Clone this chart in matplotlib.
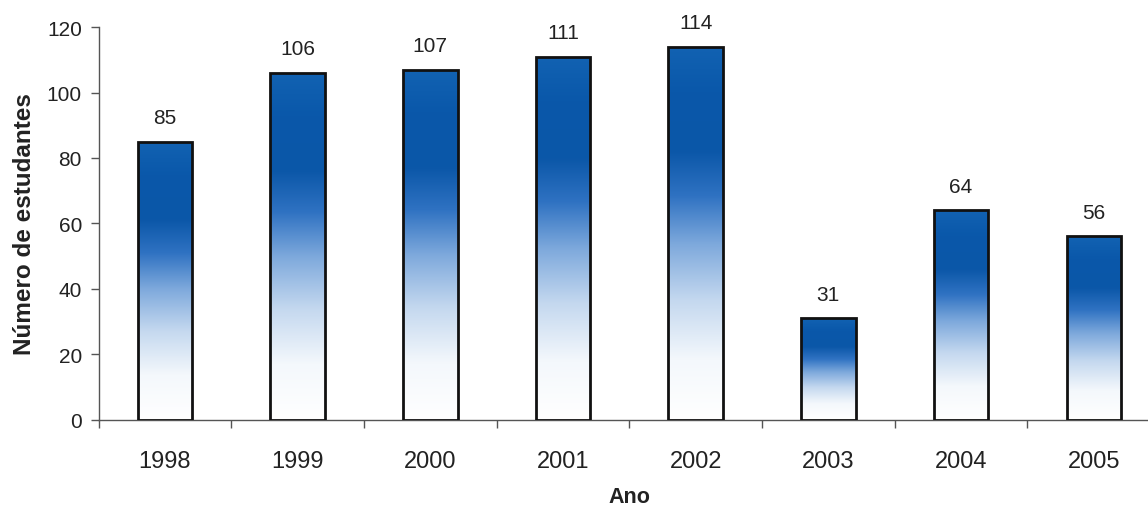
import numpy as np
import matplotlib
matplotlib.use("Agg")
import matplotlib.pyplot as plt
from matplotlib.colors import LinearSegmentedColormap

plt.rcParams['font.family'] = ['Liberation Sans', 'DejaVu Sans']

anos = ['1998', '1999', '2000', '2001', '2002', '2003', '2004', '2005']
estudantes = [85, 106, 107, 111, 114, 31, 64, 56]
yticks = [0, 20, 40, 60, 80, 100, 120]

# vertical fill: white at the base, deep blue towards the top
grad = LinearSegmentedColormap.from_list(
    'azul',
    [(0.0, '#ffffff'), (0.16, '#f4f8fc'), (0.32, '#c4d8ef'),
     (0.47, '#7ea9dc'), (0.6, '#2f72c2'), (0.72, '#0b57a8'),
     (0.88, '#0a58aa'), (1.0, '#1262b2')])

fig = plt.figure(figsize=(11.48, 5.10), dpi=100)
ax = fig.add_axes([0.0859, 0.175, 0.9246, 0.77])

x = np.arange(len(anos))
largura = 0.41
bars = ax.bar(x, estudantes, width=largura, facecolor='none',
              edgecolor='#111111', linewidth=2.0, zorder=3)

col = np.linspace(0, 1, 256).reshape(-1, 1)
for b in bars:
    x0, w, h = b.get_x(), b.get_width(), b.get_height()
    im = ax.imshow(col, cmap=grad, origin='lower', aspect='auto',
                   extent=[x0, x0 + w, 0, h], zorder=2, interpolation='bilinear')
    im.set_clip_path(b)
    ax.text(x0 + w / 2, h + 4.5, f'{int(h)}', ha='center', va='bottom',
            fontsize=15, color='#222222')

ax.set_xlim(-0.5, len(anos) - 0.5)
ax.set_ylim(0, 120)
ax.set_yticks(yticks)
ax.set_xticks(x)
ax.set_xticklabels(anos)
ax.set_xticks(np.arange(len(anos) + 1) - 0.5, minor=True)
ax.tick_params(axis='x', which='major', length=0, pad=22, labelsize=17,
               labelcolor='#222222')
ax.tick_params(axis='x', which='minor', length=6, width=1, color='#555555')
ax.tick_params(axis='y', length=6, width=1, color='#555555', labelsize=15,
               labelcolor='#222222', pad=6)

for s in ['top', 'right']:
    ax.spines[s].set_visible(False)
for s in ['left', 'bottom']:
    ax.spines[s].set_color('#555555')
    ax.spines[s].set_linewidth(1)

ax.set_ylabel('Número de estudantes', fontsize=17.5, fontweight='bold',
              color='#222222', labelpad=8)
ax.set_xlabel('Ano', fontsize=15.5, fontweight='bold', color='#222222', labelpad=10)

fig.savefig('out.png', dpi=100)
